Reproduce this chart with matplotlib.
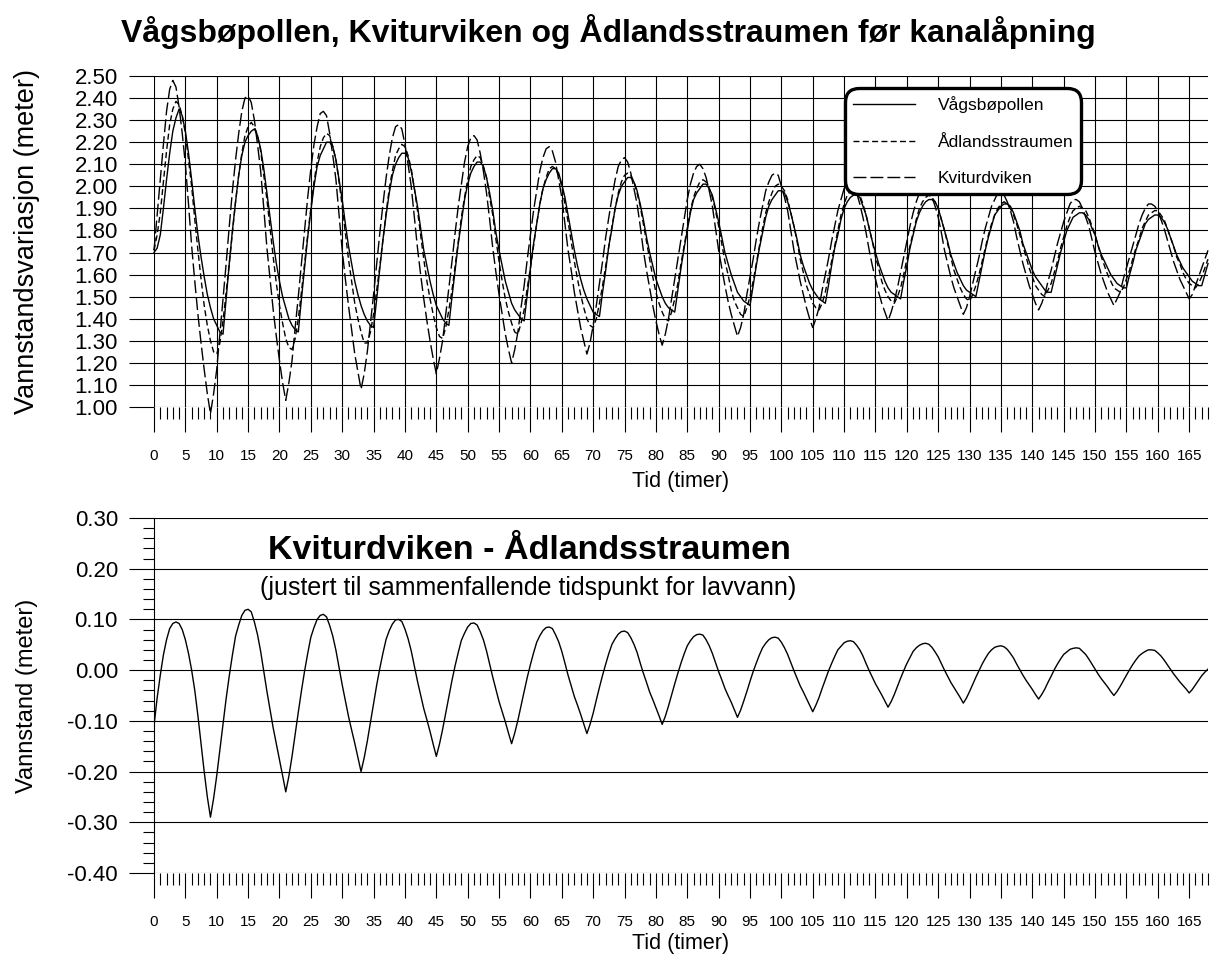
import matplotlib.pyplot as plt
import numpy as np
from matplotlib.lines import Line2D
from matplotlib.ticker import MultipleLocator, FormatStrFormatter

plt.rcParams['font.family'] = ['Liberation Sans', 'DejaVu Sans']
plt.rcParams['axes.unicode_minus'] = False

# tid i timer, avlest hver halve time
tid = np.arange(0, 168.5, 0.5)

vagsbopollen = [
    1.70, 1.72, 1.78, 1.90, 2.03, 2.15, 2.25, 2.31,
    2.35, 2.32, 2.25, 2.15, 2.03, 1.90, 1.78, 1.68, 1.59, 1.51, 1.45, 1.40, 1.37, 1.34, 1.33,
    1.49, 1.65, 1.80, 1.93, 2.05, 2.14, 2.20, 2.23, 2.25,
    2.26, 2.23, 2.17, 2.08, 1.97, 1.86, 1.75, 1.65, 1.57, 1.50, 1.45, 1.40, 1.37, 1.35, 1.34,
    1.49, 1.63, 1.77, 1.89, 2.00, 2.09, 2.14, 2.17, 2.20,
    2.20, 2.18, 2.12, 2.03, 1.94, 1.83, 1.73, 1.65, 1.57, 1.51, 1.46, 1.42, 1.39, 1.37, 1.36,
    1.49, 1.63, 1.76, 1.87, 1.97, 2.05, 2.10, 2.13, 2.15,
    2.15, 2.13, 2.07, 1.99, 1.91, 1.81, 1.71, 1.64, 1.57, 1.51, 1.46, 1.43, 1.40, 1.38, 1.37,
    1.50, 1.62, 1.74, 1.84, 1.94, 2.01, 2.06, 2.09, 2.11,
    2.11, 2.09, 2.04, 1.97, 1.89, 1.79, 1.71, 1.64, 1.57, 1.52, 1.47, 1.44, 1.42, 1.40, 1.39,
    1.51, 1.63, 1.74, 1.83, 1.92, 1.99, 2.03, 2.06, 2.08,
    2.08, 2.06, 2.01, 1.95, 1.87, 1.79, 1.71, 1.64, 1.58, 1.53, 1.49, 1.46, 1.43, 1.42, 1.41,
    1.52, 1.62, 1.73, 1.81, 1.90, 1.96, 2.00, 2.02, 2.04,
    2.04, 2.02, 1.98, 1.92, 1.85, 1.77, 1.70, 1.64, 1.58, 1.54, 1.50, 1.47, 1.45, 1.44, 1.43,
    1.53, 1.63, 1.72, 1.80, 1.88, 1.94, 1.97, 1.99, 2.01,
    2.01, 1.99, 1.96, 1.90, 1.84, 1.77, 1.70, 1.65, 1.60, 1.56, 1.52, 1.50, 1.48, 1.47, 1.46,
    1.55, 1.64, 1.72, 1.79, 1.86, 1.91, 1.94, 1.96, 1.98,
    1.98, 1.97, 1.93, 1.88, 1.82, 1.76, 1.69, 1.64, 1.60, 1.56, 1.53, 1.51, 1.49, 1.48, 1.47,
    1.55, 1.64, 1.72, 1.78, 1.85, 1.90, 1.93, 1.95, 1.96,
    1.96, 1.95, 1.91, 1.87, 1.81, 1.75, 1.70, 1.65, 1.61, 1.57, 1.54, 1.52, 1.51, 1.50, 1.49,
    1.57, 1.64, 1.72, 1.78, 1.84, 1.88, 1.91, 1.93, 1.94,
    1.94, 1.93, 1.90, 1.85, 1.80, 1.75, 1.69, 1.65, 1.61, 1.58, 1.55, 1.53, 1.52, 1.51, 1.50,
    1.57, 1.64, 1.71, 1.77, 1.82, 1.87, 1.89, 1.91, 1.92,
    1.92, 1.91, 1.88, 1.84, 1.80, 1.74, 1.70, 1.66, 1.62, 1.59, 1.57, 1.55, 1.53, 1.52, 1.52,
    1.58, 1.64, 1.70, 1.75, 1.80, 1.83, 1.86, 1.87, 1.88,
    1.88, 1.87, 1.85, 1.81, 1.78, 1.73, 1.69, 1.66, 1.63, 1.60, 1.58, 1.56, 1.55, 1.54, 1.54,
    1.60, 1.65, 1.71, 1.75, 1.79, 1.83, 1.85, 1.86, 1.87,
    1.87, 1.86, 1.84, 1.81, 1.77, 1.73, 1.69, 1.66, 1.63, 1.61, 1.59, 1.57, 1.56, 1.55, 1.55,
    1.60, 1.65,
]

adlandsstraumen = [
    1.71, 1.78, 1.88, 2.02, 2.16, 2.28, 2.35, 2.385,
    2.37, 2.32, 2.24, 2.12, 2.00, 1.85, 1.71, 1.58, 1.46, 1.37, 1.30, 1.25,
    1.24, 1.29, 1.39, 1.52, 1.65, 1.79, 1.93, 2.05, 2.15, 2.23, 2.27, 2.29,
    2.27, 2.23, 2.16, 2.05, 1.94, 1.81, 1.68, 1.56, 1.46, 1.38, 1.31, 1.27,
    1.26, 1.31, 1.40, 1.52, 1.65, 1.78, 1.90, 2.02, 2.11, 2.18, 2.22, 2.24,
    2.23, 2.18, 2.12, 2.02, 1.91, 1.79, 1.67, 1.57, 1.47, 1.40, 1.34, 1.29,
    1.29, 1.34, 1.42, 1.53, 1.64, 1.76, 1.88, 1.99, 2.07, 2.14, 2.17, 2.19,
    2.18, 2.14, 2.08, 1.99, 1.89, 1.78, 1.67, 1.57, 1.49, 1.42, 1.36, 1.32,
    1.31, 1.36, 1.44, 1.53, 1.64, 1.75, 1.86, 1.95, 2.03, 2.09, 2.12, 2.14,
    2.13, 2.09, 2.04, 1.95, 1.87, 1.76, 1.66, 1.57, 1.49, 1.43, 1.38, 1.34,
    1.33, 1.38, 1.44, 1.54, 1.63, 1.73, 1.83, 1.92, 1.99, 2.04, 2.08, 2.09,
    2.08, 2.05, 2.00, 1.92, 1.84, 1.75, 1.66, 1.58, 1.51, 1.45, 1.40, 1.37,
    1.36, 1.40, 1.47, 1.55, 1.64, 1.73, 1.82, 1.90, 1.97, 2.02, 2.05, 2.06,
    2.05, 2.02, 1.97, 1.91, 1.83, 1.75, 1.67, 1.59, 1.52, 1.47, 1.43, 1.40,
    1.39, 1.43, 1.49, 1.56, 1.65, 1.73, 1.81, 1.89, 1.95, 1.99, 2.02, 2.03,
    2.02, 1.99, 1.95, 1.89, 1.82, 1.74, 1.66, 1.60, 1.53, 1.48, 1.45, 1.42,
    1.41, 1.45, 1.50, 1.57, 1.65, 1.73, 1.81, 1.88, 1.93, 1.97, 2.00, 2.01,
    2.00, 1.98, 1.94, 1.88, 1.82, 1.75, 1.67, 1.61, 1.55, 1.51, 1.47, 1.45,
    1.44, 1.47, 1.52, 1.59, 1.66, 1.73, 1.80, 1.87, 1.92, 1.96, 1.98, 1.99,
    1.98, 1.96, 1.92, 1.87, 1.81, 1.75, 1.68, 1.63, 1.57, 1.53, 1.50, 1.48,
    1.47, 1.50, 1.54, 1.60, 1.67, 1.73, 1.79, 1.85, 1.90, 1.93, 1.95, 1.96,
    1.95, 1.93, 1.90, 1.85, 1.80, 1.74, 1.68, 1.62, 1.58, 1.54, 1.51, 1.49,
    1.48, 1.51, 1.55, 1.60, 1.66, 1.72, 1.78, 1.83, 1.87, 1.90, 1.92, 1.93,
    1.92, 1.90, 1.87, 1.83, 1.78, 1.73, 1.68, 1.63, 1.59, 1.55, 1.53, 1.51,
    1.50, 1.53, 1.56, 1.61, 1.66, 1.72, 1.77, 1.82, 1.86, 1.89, 1.90, 1.91,
    1.90, 1.89, 1.86, 1.82, 1.78, 1.73, 1.68, 1.64, 1.60, 1.57, 1.54, 1.53,
    1.52, 1.54, 1.58, 1.62, 1.67, 1.72, 1.76, 1.81, 1.84, 1.87, 1.88, 1.89,
    1.89, 1.87, 1.85, 1.81, 1.77, 1.73, 1.68, 1.65, 1.61, 1.58, 1.56, 1.55,
    1.54, 1.56, 1.59, 1.63, 1.67,
]

kviturdviken = [
    1.71, 1.87, 2.03, 2.19, 2.34, 2.44, 2.48,
    2.45, 2.36, 2.24, 2.10, 1.92, 1.73, 1.57, 1.42, 1.29, 1.17, 1.06, 0.97,
    1.06, 1.17, 1.33, 1.49, 1.65, 1.82, 1.98, 2.12, 2.24, 2.34, 2.40, 2.41,
    2.38, 2.30, 2.19, 2.07, 1.90, 1.72, 1.58, 1.44, 1.32, 1.21, 1.11, 1.03,
    1.11, 1.21, 1.36, 1.50, 1.65, 1.80, 1.95, 2.08, 2.19, 2.27, 2.33, 2.34,
    2.32, 2.24, 2.14, 2.03, 1.87, 1.71, 1.58, 1.46, 1.35, 1.24, 1.16, 1.08,
    1.15, 1.25, 1.38, 1.51, 1.65, 1.79, 1.92, 2.04, 2.14, 2.22, 2.27, 2.28,
    2.26, 2.19, 2.10, 2.00, 1.86, 1.72, 1.60, 1.49, 1.39, 1.30, 1.22, 1.15,
    1.22, 1.30, 1.42, 1.54, 1.66, 1.79, 1.91, 2.01, 2.11, 2.18, 2.22, 2.23,
    2.21, 2.15, 2.07, 1.97, 1.85, 1.72, 1.61, 1.51, 1.42, 1.33, 1.26, 1.20,
    1.26, 1.34, 1.45, 1.55, 1.67, 1.78, 1.89, 1.98, 2.07, 2.13, 2.17, 2.18,
    2.16, 2.11, 2.03, 1.95, 1.83, 1.71, 1.62, 1.52, 1.44, 1.36, 1.30, 1.24,
    1.29, 1.37, 1.46, 1.56, 1.66, 1.77, 1.86, 1.95, 2.03, 2.09, 2.12, 2.13,
    2.11, 2.06, 1.99, 1.92, 1.82, 1.71, 1.62, 1.54, 1.46, 1.39, 1.33, 1.28,
    1.33, 1.40, 1.49, 1.58, 1.67, 1.76, 1.85, 1.94, 2.01, 2.06, 2.09, 2.10,
    2.08, 2.04, 1.98, 1.91, 1.81, 1.71, 1.63, 1.55, 1.48, 1.42, 1.37, 1.32,
    1.36, 1.42, 1.51, 1.59, 1.67, 1.76, 1.84, 1.91, 1.98, 2.02, 2.05, 2.06,
    2.05, 2.00, 1.95, 1.89, 1.80, 1.71, 1.64, 1.57, 1.51, 1.45, 1.40, 1.36,
    1.40, 1.45, 1.53, 1.60, 1.67, 1.75, 1.82, 1.89, 1.94, 1.99, 2.01, 2.02,
    2.01, 1.97, 1.92, 1.86, 1.79, 1.71, 1.64, 1.58, 1.52, 1.47, 1.43, 1.39,
    1.43, 1.48, 1.54, 1.61, 1.68, 1.75, 1.82, 1.88, 1.93, 1.97, 1.99, 2.00,
    1.99, 1.95, 1.91, 1.86, 1.79, 1.71, 1.65, 1.59, 1.54, 1.50, 1.46, 1.42,
    1.45, 1.50, 1.56, 1.62, 1.68, 1.75, 1.81, 1.86, 1.91, 1.94, 1.97, 1.97,
    1.96, 1.93, 1.89, 1.84, 1.77, 1.71, 1.65, 1.60, 1.55, 1.51, 1.47, 1.44,
    1.47, 1.51, 1.57, 1.62, 1.68, 1.74, 1.79, 1.84, 1.88, 1.92, 1.94, 1.94,
    1.93, 1.90, 1.86, 1.82, 1.76, 1.70, 1.65, 1.60, 1.56, 1.52, 1.49, 1.46,
    1.49, 1.52, 1.58, 1.63, 1.68, 1.73, 1.78, 1.83, 1.87, 1.90, 1.92, 1.92,
    1.91, 1.89, 1.85, 1.81, 1.76, 1.71, 1.66, 1.62, 1.58, 1.55, 1.52, 1.49,
    1.51, 1.55, 1.59, 1.63, 1.67, 1.71,
]

# Kviturdviken - Ådlandsstraumen, justert til lavvann
differanse = [
    -0.110, -0.055, -0.010, 0.030, 0.060, 0.082, 0.092, 0.095, 0.092, 0.080,
    0.060, 0.033, 0.000, -0.040, -0.090, -0.145, -0.200, -0.250, -0.290,
    -0.253, -0.208, -0.157, -0.106, -0.056, -0.011, 0.030, 0.067, 0.089, 0.108, 0.118, 0.120,
    0.115, 0.095, 0.070, 0.037, -0.002, -0.042, -0.078, -0.114, -0.145, -0.175, -0.208, -0.240,
    -0.209, -0.170, -0.126, -0.083, -0.041, -0.002, 0.033, 0.065, 0.084, 0.100, 0.108, 0.110,
    0.105, 0.088, 0.067, 0.039, 0.005, -0.029, -0.060, -0.091, -0.118, -0.144, -0.172, -0.200,
    -0.173, -0.140, -0.103, -0.065, -0.029, 0.004, 0.034, 0.061, 0.078, 0.091, 0.099, 0.100,
    0.096, 0.081, 0.062, 0.038, 0.008, -0.022, -0.049, -0.076, -0.098, -0.121, -0.146, -0.170,
    -0.146, -0.117, -0.085, -0.052, -0.020, 0.009, 0.035, 0.059, 0.073, 0.085, 0.092, 0.093,
    0.089, 0.076, 0.060, 0.038, 0.012, -0.014, -0.038, -0.062, -0.082, -0.102, -0.124, -0.145,
    -0.124, -0.099, -0.070, -0.042, -0.014, 0.011, 0.034, 0.055, 0.068, 0.078, 0.084, 0.085,
    0.082, 0.070, 0.056, 0.037, 0.014, -0.010, -0.031, -0.052, -0.069, -0.087, -0.106, -0.125,
    -0.107, -0.085, -0.059, -0.034, -0.010, 0.012, 0.033, 0.051, 0.062, 0.071, 0.076, 0.077,
    0.074, 0.064, 0.051, 0.035, 0.014, -0.006, -0.024, -0.043, -0.058, -0.074, -0.090, -0.107,
    -0.091, -0.071, -0.049, -0.027, -0.006, 0.014, 0.032, 0.048, 0.058, 0.066, 0.070, 0.071,
    0.069, 0.060, 0.048, 0.033, 0.015, -0.003, -0.019, -0.036, -0.050, -0.063, -0.078, -0.093,
    -0.079, -0.061, -0.042, -0.022, -0.003, 0.014, 0.030, 0.044, 0.053, 0.060, 0.064, 0.065,
    0.063, 0.055, 0.044, 0.031, 0.015, -0.001, -0.016, -0.031, -0.043, -0.056, -0.069, -0.082,
    -0.069, -0.054, -0.036, -0.019, -0.002, 0.013, 0.027, 0.040, 0.047, 0.054, 0.057, 0.058,
    0.056, 0.049, 0.040, 0.028, 0.013, -0.001, -0.014, -0.027, -0.038, -0.049, -0.061, -0.073,
    -0.062, -0.048, -0.032, -0.016, -0.001, 0.013, 0.025, 0.037, 0.044, 0.049, 0.052, 0.053,
    0.051, 0.045, 0.036, 0.026, 0.013, 0.000, -0.012, -0.024, -0.034, -0.044, -0.054, -0.065,
    -0.055, -0.042, -0.028, -0.014, -0.001, 0.012, 0.023, 0.033, 0.040, 0.045, 0.047, 0.048,
    0.046, 0.041, 0.033, 0.024, 0.012, 0.001, -0.010, -0.020, -0.029, -0.038, -0.048, -0.057,
    -0.048, -0.037, -0.024, -0.012, 0.001, 0.012, 0.022, 0.031, 0.036, 0.041, 0.043, 0.044,
    0.043, 0.037, 0.031, 0.022, 0.012, 0.002, -0.008, -0.017, -0.025, -0.033, -0.042, -0.050,
    -0.042, -0.032, -0.021, -0.010, 0.001, 0.011, 0.020, 0.028, 0.033, 0.037, 0.040, 0.040,
    0.039, 0.034, 0.028, 0.020, 0.011, 0.002, -0.007, -0.015, -0.023, -0.030, -0.037, -0.045,
    -0.038, -0.029, -0.020, -0.011, -0.004, 0.002,
]

kort_strek = (0, (4.3, 2.4))
lang_strek = (0, (9.3, 2.9))

W, H = 1216, 961
fig = plt.figure(figsize=(W / 100, H / 100), dpi=100)
ax1 = fig.add_axes([154 / W, 1 - 407 / H, 1054 / W, 331 / H])
ax2 = fig.add_axes([154 / W, 1 - 873 / H, 1054 / W, 355 / H])

for ax in (ax1, ax2):
    ax.set_xlim(0, 168)
    ax.xaxis.set_major_locator(MultipleLocator(5))
    ax.xaxis.set_minor_locator(MultipleLocator(1))
    ax.yaxis.set_major_formatter(FormatStrFormatter('%.2f'))
    ax.tick_params(axis='x', which='major', direction='out', length=18, width=0.8,
                   labelsize=11, pad=12)
    ax.tick_params(axis='x', which='minor', direction='out', length=8.5, width=0.8)
    ax.tick_params(axis='y', which='major', direction='out', length=18, width=0.8,
                   labelsize=16, pad=8)
    ax.tick_params(axis='y', which='minor', direction='out', length=8, width=0.8)
    for s in ax.spines.values():
        s.set_visible(False)
    ax.set_axisbelow(True)

# ---- øverste figur
ax1.set_ylim(1.0, 2.5)
ax1.yaxis.set_major_locator(MultipleLocator(0.1))
ax1.grid(True, which='major', color='black', lw=0.8)
ax1.plot(tid, vagsbopollen, color='black', lw=1.0, clip_on=False)
ax1.plot(tid, adlandsstraumen, color='black', lw=1.0, ls=kort_strek, clip_on=False)
ax1.plot(tid, kviturdviken, color='black', lw=1.0, ls=lang_strek, clip_on=False)

ax1.set_xlabel('Tid (timer)', fontsize=15.5, va='center')
ax1.xaxis.set_label_coords(0.5, -(481 - 407) / 331)
ax1.set_ylabel('Vannstandsvariasjon (meter)', fontsize=19.5, va='center')
ax1.yaxis.set_label_coords((27 - 154) / 1054, 0.5)

handles = [Line2D([], [], color='black', lw=1.0),
           Line2D([], [], color='black', lw=1.0, ls=kort_strek),
           Line2D([], [], color='black', lw=1.0, ls=lang_strek)]
leg = ax1.legend(handles, ['Vågsbøpollen', 'Ådlandsstraumen', 'Kviturdviken'],
                 loc='upper left', bbox_to_anchor=(845 / W, 1 - 88 / H),
                 bbox_transform=fig.transFigure, fontsize=12.5, frameon=True,
                 fancybox=True, framealpha=1, edgecolor='black', handlelength=3.6,
                 handletextpad=1.3, labelspacing=1.25, borderpad=0.45, borderaxespad=0)
leg.get_frame().set_linewidth(2.4)
leg.get_frame().set_boxstyle('round,pad=0,rounding_size=0.8')

fig.text(0.5, 1 - 32 / H, 'Vågsbøpollen, Kviturviken og Ådlandsstraumen før kanalåpning',
         ha='center', va='center', fontsize=23, fontweight='bold')

# ---- nederste figur
ax2.set_ylim(-0.4, 0.3)
ax2.yaxis.set_major_locator(MultipleLocator(0.1))
ax2.yaxis.set_minor_locator(MultipleLocator(0.02))
ax2.grid(True, axis='y', which='major', color='black', lw=0.8)
ax2.spines['left'].set_visible(True)
ax2.spines['left'].set_linewidth(0.8)
ax2.plot(tid, differanse, color='black', lw=1.0)

ax2.set_xlabel('Tid (timer)', fontsize=15.5, va='center')
ax2.xaxis.set_label_coords(0.5, -(943 - 873) / 355)
ax2.set_ylabel('Vannstand (meter)', fontsize=17, va='center')
ax2.yaxis.set_label_coords((27 - 154) / 1054, 0.5)

ax2.text((268 - 154) / 1054, (873 - 559) / 355, 'Kviturdviken - Ådlandsstraumen',
         transform=ax2.transAxes, fontsize=24.5, fontweight='bold', va='baseline')
ax2.text((260 - 154) / 1054, (873 - 595) / 355,
         '(justert til sammenfallende tidspunkt for lavvann)',
         transform=ax2.transAxes, fontsize=18, va='baseline')

fig.savefig('out.png', dpi=100)
